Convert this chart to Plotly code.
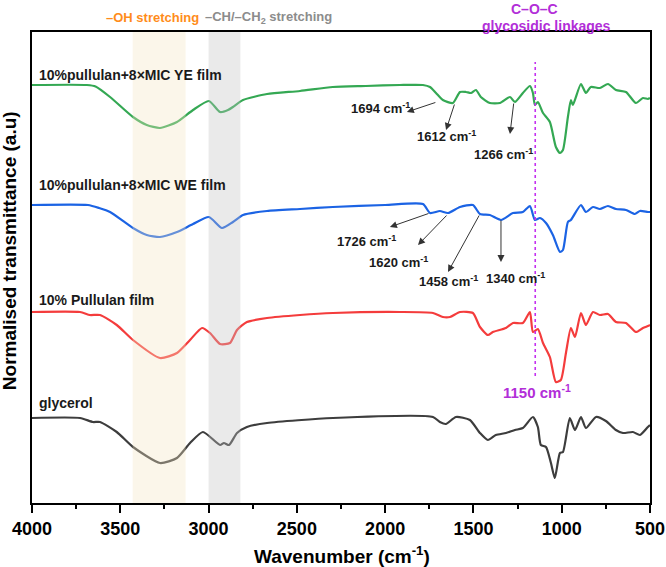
import plotly.graph_objects as go

# ---------------- data (wavenumber in cm^-1, normalised transmittance with offsets) -------------
ye_wn = [4000, 3689, 3640, 3558, 3428, 3350, 3275, 3179, 3088, 2998, 2935, 2890, 2862, 2805, 2669,
         2482, 2296, 2109, 1916, 1786, 1746, 1712, 1673, 1616, 1576, 1542, 1514, 1486, 1458, 1407,
         1350, 1293, 1265, 1220, 1180, 1163, 1152, 1135, 1106, 1067, 1033, 1010, 993, 965, 948, 937,
         891, 863, 835, 784, 738, 693, 636, 580, 540, 512, 500]
ye_t = [4.18, 4.18, 4.165, 4.06, 3.86, 3.78, 3.75, 3.81, 3.93, 4.02, 3.91, 3.93, 3.96, 4.03, 4.09,
        4.12, 4.16, 4.17, 4.18, 4.18, 4.16, 4.10, 4.03, 4.00, 4.11, 4.11, 4.10, 4.13, 4.06, 4.00,
        4.00, 4.06, 4.01, 4.10, 4.17, 4.10, 3.98, 4.01, 3.90, 3.81, 3.56, 3.50, 3.53, 3.86, 4.03, 3.98,
        4.19, 4.10, 4.16, 4.15, 4.19, 4.13, 4.11, 4.00, 4.05, 4.04, 4.05]

we_wn = [4000, 3683, 3620, 3558, 3428, 3350, 3275, 3179, 3088, 2998, 2924, 2862, 2805, 2669, 2482,
         2296, 2000, 1786, 1746, 1690, 1644, 1576, 1503, 1463, 1407, 1344, 1276, 1220, 1180, 1152,
         1123, 1089, 1050, 1010, 993, 965, 948, 891, 863, 823, 784, 738, 693, 636, 586, 557, 512, 500]
we_t = [2.98, 2.98, 2.95, 2.91, 2.75, 2.68, 2.66, 2.71, 2.79, 2.86, 2.75, 2.81, 2.88, 2.92, 2.94,
        2.96, 2.98, 2.99, 2.90, 2.92, 2.90, 2.96, 2.98, 2.89, 2.88, 2.83, 2.90, 2.91, 2.97, 2.83,
        2.85, 2.80, 2.68, 2.51, 2.53, 2.81, 2.83, 2.98, 2.91, 2.96, 2.94, 2.97, 2.94, 2.93, 2.89,
        2.92, 2.91, 2.91]

pu_wn = [4000, 3728, 3672, 3615, 3520, 3428, 3275, 3179, 3105, 3037, 2992, 2935, 2879, 2839, 2783,
         2669, 2482, 2296, 1916, 1729, 1673, 1633, 1576, 1503, 1463, 1418, 1390, 1316, 1276, 1220,
         1180, 1163, 1135, 1106, 1067, 1033, 1005, 976, 948, 925, 891, 863, 823, 784, 738, 693, 636,
         580, 540, 512, 500]
pu_t = [1.91, 1.91, 1.88, 1.88, 1.78, 1.63, 1.45, 1.50, 1.63, 1.75, 1.70, 1.59, 1.60, 1.73, 1.81,
        1.85, 1.88, 1.90, 1.91, 1.90, 1.86, 1.86, 1.91, 1.90, 1.76, 1.68, 1.71, 1.75, 1.80, 1.80,
        1.91, 1.71, 1.74, 1.60, 1.46, 1.21, 1.23, 1.50, 1.75, 1.66, 1.90, 1.78, 1.91, 1.88, 1.89,
        1.81, 1.80, 1.71, 1.75, 1.77, 1.78]

gl_wn = [4000, 3728, 3655, 3615, 3520, 3428, 3275, 3179, 3105, 3032, 2935, 2913, 2884, 2839, 2783,
         2669, 2296, 1729, 1690, 1656, 1599, 1520, 1463, 1418, 1373, 1316, 1265, 1220, 1163, 1135,
         1118, 1089, 1061, 1039, 1010, 993, 954, 925, 891, 863, 806, 750, 693, 653, 597, 557, 512, 500]
gl_t = [0.85, 0.85, 0.81, 0.81, 0.71, 0.56, 0.40, 0.45, 0.60, 0.71, 0.58, 0.60, 0.58, 0.70, 0.76,
        0.80, 0.85, 0.86, 0.81, 0.79, 0.86, 0.83, 0.70, 0.63, 0.68, 0.70, 0.73, 0.75, 0.86, 0.76,
        0.58, 0.56, 0.40, 0.25, 0.50, 0.51, 0.85, 0.73, 0.86, 0.75, 0.86, 0.82, 0.73, 0.70, 0.71,
        0.68, 0.76, 0.78]

series_names = ["10%pullulan+8×MIC YE film", "10%pullulan+8×MIC WE film", "10% Pullulan film", "glycerol"]
series_wn = [ye_wn, we_wn, pu_wn, gl_wn]
series_t = [ye_t, we_t, pu_t, gl_t]
series_colors = ["#34A853", "#1B63E4", "#F43C3C", "#3D3D3D"]
label_y = [4.28, 3.18, 2.03, 1.00]

x_ticks = [4000, 3500, 3000, 2500, 2000, 1500, 1000, 500]

# band ranges (cm^-1)
oh_band = [3430, 3130]
ch_band = [3000, 2820]
coc_line = 1150

# peak annotations: label, label pos (wn, t), arrow head (wn, t), arrow tail (wn, t)
peaks = [
    ("1694", (2024, 3.95), (1877, 3.91), (1707, 4.01)),
    ("1612", (1650, 3.67), (1655, 3.73), (1605, 4.00)),
    ("1266", (1327, 3.49), (1293, 3.69), (1271, 4.01)),
    ("1726", (2103, 2.62), (1973, 2.76), (1746, 2.90)),
    ("1620", (1922, 2.41), (1814, 2.58), (1644, 2.89)),
    ("1458", (1639, 2.22), (1644, 2.31), (1463, 2.89)),
    ("1340", (1259, 2.25), (1344, 2.41), (1344, 2.84)),
]

FONT = "Arial, Liberation Sans, sans-serif"

fig = go.Figure()
for name, wn, t, col in zip(series_names, series_wn, series_t, series_colors):
    fig.add_trace(go.Scatter(x=wn, y=t, mode="lines", name=name,
                             line=dict(color=col, width=2.2, shape="spline", smoothing=0.6),
                             showlegend=False, hoverinfo="skip"))

shapes = [
    dict(type="rect", xref="x", yref="paper", x0=oh_band[0], x1=oh_band[1], y0=0, y1=1,
         fillcolor="rgb(243,230,196)", opacity=0.35, line=dict(width=0), layer="above"),
    dict(type="rect", xref="x", yref="paper", x0=ch_band[0], x1=ch_band[1], y0=0, y1=1,
         fillcolor="rgb(196,196,196)", opacity=0.35, line=dict(width=0), layer="above"),
    dict(type="line", xref="x", yref="y", x0=coc_line, x1=coc_line, y0=1.27, y1=4.41,
         line=dict(color="#C431F0", width=1.6, dash="dot"), layer="above"),
]

annotations = []
for name, y, col in zip(series_names, label_y, series_colors):
    annotations.append(dict(x=3972, y=y, xref="x", yref="y", text=name, showarrow=False,
                            xanchor="left", yanchor="middle",
                            font=dict(family=FONT, size=14, color="#1a1a1a", weight="bold")))

for lab, lpos, head, tail in peaks:
    annotations.append(dict(x=lpos[0], y=lpos[1], xref="x", yref="y",
                            text=f"{lab} cm<sup>-1</sup>", showarrow=False,
                            xanchor="center", yanchor="middle",
                            font=dict(family=FONT, size=13, color="#1a1a1a", weight="bold")))
    annotations.append(dict(x=head[0], y=head[1], xref="x", yref="y", ax=tail[0], ay=tail[1],
                            axref="x", ayref="y", text="", showarrow=True, arrowhead=2,
                            arrowsize=1.4, arrowwidth=1, arrowcolor="#333333", standoff=0,
                            startstandoff=0))

annotations.append(dict(x=1140, y=1.12, xref="x", yref="y", text="1150 cm<sup>-1</sup>",
                        showarrow=False, xanchor="center", yanchor="middle",
                        font=dict(family=FONT, size=15, color="#B22ED8", weight="bold")))

annotations += [
    dict(x=3320, y=1.03, xref="x", yref="paper", text="–OH stretching", showarrow=False,
         xanchor="center", yanchor="middle",
         font=dict(family=FONT, size=13, color="#FF8C1A", weight="bold")),
    dict(x=2658, y=1.03, xref="x", yref="paper", text="–CH/–CH<sub>2</sub> stretching",
         showarrow=False, xanchor="center", yanchor="middle",
         font=dict(family=FONT, size=13, color="#8C8C8C", weight="bold")),
    dict(x=1152, y=1.049, xref="x", yref="paper", text="C–O–C", showarrow=False,
         xanchor="center", yanchor="middle",
         font=dict(family=FONT, size=14, color="#B22ED8", weight="bold")),
    dict(x=1089, y=1.013, xref="x", yref="paper", text="glycosidic linkages", showarrow=False,
         xanchor="center", yanchor="middle",
         font=dict(family=FONT, size=14, color="#B22ED8", weight="bold")),
    dict(x=-0.037, y=0.535, xref="paper", yref="paper", text="Normalised transmittance (a.u)",
         textangle=-90, showarrow=False, xanchor="center", yanchor="middle",
         font=dict(family=FONT, size=19, color="black", weight="bold")),
    dict(x=0.502, y=-0.11, xref="paper", yref="paper", text="Wavenumber (cm<sup>-1</sup>)",
         showarrow=False, xanchor="center", yanchor="middle",
         font=dict(family=FONT, size=19, color="black", weight="bold")),
]

fig.update_layout(
    width=666, height=567,
    margin=dict(l=32, r=16, t=32, b=64, autoexpand=False),
    paper_bgcolor="white", plot_bgcolor="white",
    shapes=shapes, annotations=annotations,
    xaxis=dict(range=[4000, 500], tickvals=x_ticks, ticktext=[str(v) for v in x_ticks],
               automargin=False,
               showline=True, linecolor="black", linewidth=2, mirror=True,
               ticks="outside", ticklen=8, tickwidth=2, tickcolor="black",
               minor=dict(tickvals=[3750, 3250, 2750, 2250, 1750, 1250, 750], ticks="outside",
                          ticklen=4, tickwidth=2, tickcolor="black"),
               showgrid=False, zeroline=False,
               tickfont=dict(family=FONT, size=18, color="black", weight="bold")),
    yaxis=dict(range=[0, 4.71], showline=True, linecolor="black", linewidth=2, mirror=True,
               automargin=False,
               ticks="", showticklabels=False, showgrid=False, zeroline=False),
)

fig.write_html("out.html")
